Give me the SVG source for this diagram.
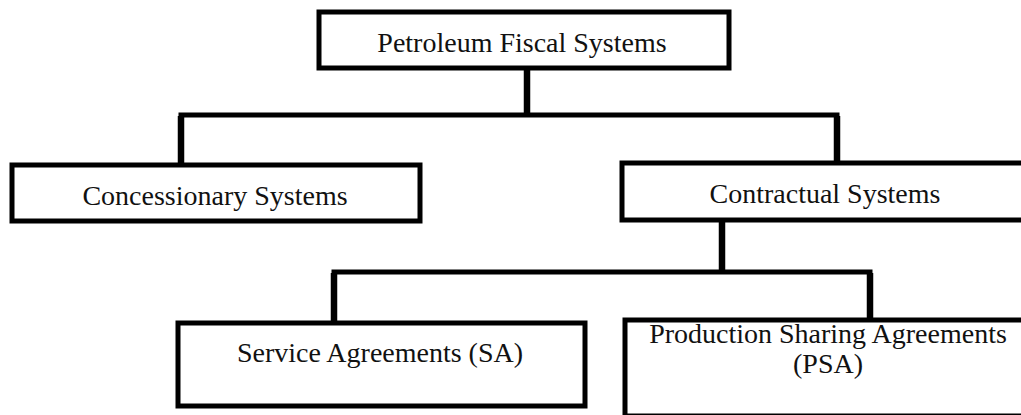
<svg xmlns="http://www.w3.org/2000/svg" width="1021" height="415" viewBox="0 0 1021 415">
<style>
.box{fill:#fff;stroke:#000;stroke-width:5}
.lbl{font-family:"Liberation Serif","Times New Roman",serif;font-size:28px;fill:#111;text-anchor:middle}
.con{fill:none;stroke:#000;stroke-width:5;stroke-linejoin:miter}
.v{fill:none;stroke:#000;stroke-width:6.5}
</style>
<rect width="1021" height="415" fill="#fff"/>
<g id="connectors">
<path class="v" d="M527 68 V115"/>
<path class="con" d="M181 165 V115 H837 V163"/>
<path class="v" d="M181 165 V116"/>
<path class="v" d="M722 220 V272"/>
<path class="con" d="M334 323 V272 H870 V320"/>
<path class="v" d="M334 323 V273"/>
<path class="v" d="M870 320 V273"/>
<path class="v" d="M837 163 V116"/>
</g>
<g id="n-petroleum">
<rect class="box" x="319" y="12" width="410" height="56"/>
<text class="lbl" x="522" y="52">Petroleum Fiscal Systems</text>
</g>
<g id="n-concessionary">
<rect class="box" x="12" y="165" width="408" height="56"/>
<text class="lbl" x="215" y="205">Concessionary Systems</text>
</g>
<g id="n-contractual">
<rect class="box" x="622" y="163" width="410" height="57"/>
<text class="lbl" x="825" y="203">Contractual Systems</text>
</g>
<g id="n-sa">
<rect class="box" x="178" y="323" width="407" height="83"/>
<text class="lbl" x="380" y="362">Service Agreements (SA)</text>
</g>
<g id="n-psa">
<rect class="box" x="625" y="320" width="407" height="96"/>
<text class="lbl" x="828" y="343">Production Sharing Agreements</text>
<text class="lbl" x="828" y="373">(PSA)</text>
</g>
</svg>
